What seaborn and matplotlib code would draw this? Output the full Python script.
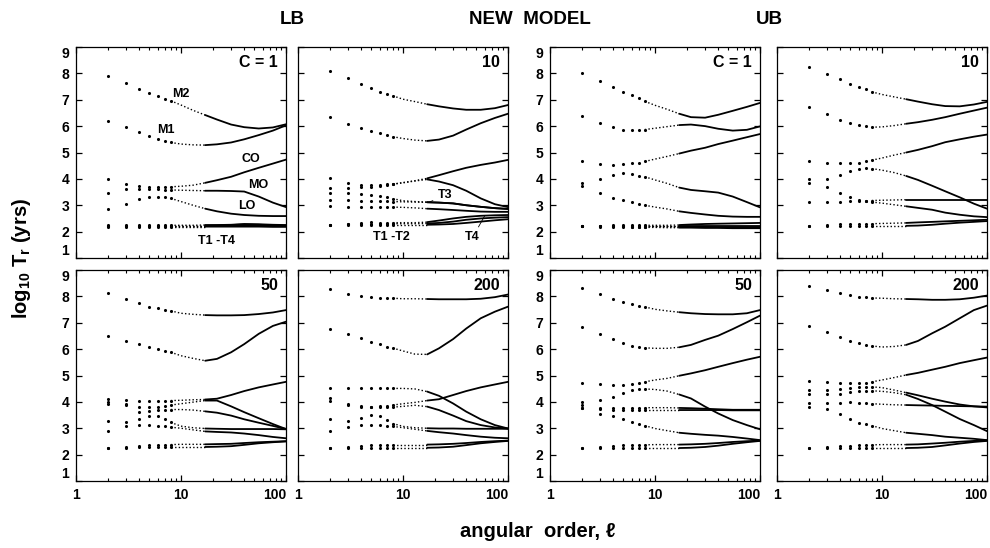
import matplotlib
matplotlib.use("Agg")
import matplotlib.pyplot as plt
import matplotlib.ticker as mticker
import pandas as pd
import seaborn as sns

# angular order samples (dots at low l, dotted / solid line further on)
ell = [2, 3, 4, 5, 6, 7, 8, 10, 13, 17, 22, 30, 40, 55, 75, 100]

# ---- LB, C = 1
lb1_m2 = [7.90, 7.63, 7.40, 7.24, 7.14, 7.04, 6.96, 6.80, 6.60, 6.42, 6.25, 6.06, 5.96, 5.91, 5.95, 6.07]
lb1_m1 = [6.19, 5.95, 5.77, 5.62, 5.50, 5.43, 5.38, 5.32, 5.29, 5.28, 5.31, 5.38, 5.50, 5.66, 5.83, 6.03]
lb1_co = [3.98, 3.81, 3.73, 3.70, 3.69, 3.69, 3.70, 3.72, 3.76, 3.85, 3.95, 4.08, 4.25, 4.42, 4.58, 4.73]
lb1_mo = [3.47, 3.60, 3.62, 3.61, 3.60, 3.59, 3.58, 3.57, 3.56, 3.55, 3.55, 3.54, 3.52, 3.33, 3.10, 2.93]
lb1_lo = [2.87, 3.05, 3.22, 3.30, 3.32, 3.30, 3.26, 3.14, 3.00, 2.87, 2.77, 2.68, 2.63, 2.60, 2.59, 2.59]
lb1_t1 = [2.19, 2.19, 2.19, 2.19, 2.19, 2.19, 2.19, 2.19, 2.19, 2.19, 2.19, 2.19, 2.19, 2.19, 2.18, 2.18]
lb1_t2 = [2.21, 2.21, 2.21, 2.21, 2.21, 2.21, 2.21, 2.21, 2.21, 2.21, 2.21, 2.22, 2.22, 2.22, 2.21, 2.21]
lb1_t3 = [2.23, 2.23, 2.23, 2.23, 2.23, 2.23, 2.23, 2.23, 2.23, 2.23, 2.24, 2.25, 2.27, 2.26, 2.24, 2.23]
lb1_t4 = [2.24, 2.24, 2.24, 2.24, 2.24, 2.24, 2.24, 2.24, 2.24, 2.25, 2.25, 2.26, 2.29, 2.28, 2.26, 2.25]

# ---- LB, C = 10
lb10_m2 = [8.09, 7.81, 7.61, 7.43, 7.30, 7.21, 7.15, 7.02, 6.93, 6.83, 6.75, 6.67, 6.62, 6.62, 6.68, 6.80]
lb10_m1 = [6.33, 6.09, 5.93, 5.83, 5.74, 5.67, 5.60, 5.53, 5.47, 5.44, 5.49, 5.64, 5.87, 6.11, 6.31, 6.47]
lb10_co = [4.04, 3.85, 3.76, 3.76, 3.77, 3.79, 3.80, 3.86, 3.93, 4.02, 4.14, 4.29, 4.42, 4.53, 4.62, 4.72]
lb10_mo = [3.64, 3.66, 3.68, 3.71, 3.74, 3.77, 3.80, 3.85, 3.92, 3.98, 3.90, 3.76, 3.55, 3.26, 3.04, 2.93]
lb10_x = [3.45, 3.45, 3.43, 3.40, 3.35, 3.30, 3.25, 3.17, 3.14, 3.12, 3.10, 3.07, 3.00, 2.94, 2.89, 2.86]
lb10_t3 = [3.21, 3.20, 3.18, 3.17, 3.16, 3.15, 3.14, 3.13, 3.12, 3.11, 3.10, 3.07, 3.00, 2.94, 2.89, 2.86]
lb10_lo = [2.98, 2.93, 2.93, 2.93, 2.93, 2.93, 2.93, 2.92, 2.90, 2.87, 2.85, 2.82, 2.79, 2.76, 2.75, 2.75]
lb10_t4 = [2.26, 2.30, 2.33, 2.35, 2.34, 2.34, 2.34, 2.34, 2.34, 2.36, 2.42, 2.50, 2.56, 2.60, 2.62, 2.63]
lb10_t2 = [2.26, 2.28, 2.30, 2.30, 2.30, 2.30, 2.30, 2.30, 2.30, 2.31, 2.33, 2.38, 2.45, 2.50, 2.53, 2.55]
lb10_t1 = [2.26, 2.26, 2.26, 2.26, 2.26, 2.26, 2.26, 2.26, 2.26, 2.26, 2.27, 2.29, 2.33, 2.38, 2.43, 2.47]

# ---- UB, C = 1
ub1_m2 = [8.00, 7.71, 7.49, 7.30, 7.17, 7.05, 6.94, 6.79, 6.64, 6.47, 6.34, 6.32, 6.43, 6.58, 6.73, 6.88]
ub1_m1 = [6.38, 6.13, 5.96, 5.87, 5.86, 5.86, 5.87, 5.92, 5.98, 6.04, 6.06, 6.00, 5.90, 5.83, 5.86, 5.99]
ub1_co = [4.66, 4.58, 4.53, 4.56, 4.59, 4.62, 4.66, 4.75, 4.85, 4.96, 5.07, 5.18, 5.32, 5.45, 5.58, 5.70]
ub1_mo = [3.85, 3.98, 4.15, 4.21, 4.17, 4.12, 4.08, 3.96, 3.83, 3.67, 3.58, 3.53, 3.48, 3.33, 3.12, 2.92]
ub1_lo = [3.72, 3.47, 3.28, 3.19, 3.11, 3.05, 3.00, 2.93, 2.86, 2.77, 2.71, 2.65, 2.60, 2.57, 2.56, 2.56]
ub1_t4 = [2.22, 2.23, 2.24, 2.24, 2.24, 2.24, 2.24, 2.24, 2.24, 2.25, 2.27, 2.29, 2.30, 2.31, 2.32, 2.33]
ub1_t3 = [2.22, 2.22, 2.22, 2.22, 2.22, 2.22, 2.22, 2.22, 2.22, 2.22, 2.22, 2.22, 2.22, 2.22, 2.22, 2.22]
ub1_t2 = [2.22, 2.21, 2.20, 2.20, 2.19, 2.19, 2.19, 2.19, 2.19, 2.18, 2.18, 2.18, 2.17, 2.17, 2.17, 2.17]
ub1_t1 = [2.21, 2.19, 2.18, 2.17, 2.17, 2.16, 2.16, 2.16, 2.15, 2.15, 2.15, 2.14, 2.14, 2.13, 2.13, 2.13]

# ---- UB, C = 10
ub10_m2 = [8.26, 7.97, 7.77, 7.60, 7.49, 7.39, 7.30, 7.20, 7.11, 7.02, 6.93, 6.83, 6.76, 6.75, 6.82, 6.92]
ub10_m1 = [6.71, 6.45, 6.25, 6.13, 6.05, 6.00, 5.96, 5.97, 6.02, 6.09, 6.15, 6.24, 6.34, 6.47, 6.59, 6.70]
ub10_co = [4.68, 4.62, 4.59, 4.59, 4.62, 4.66, 4.71, 4.79, 4.90, 5.00, 5.10, 5.24, 5.39, 5.50, 5.60, 5.68]
ub10_mo = [3.98, 4.01, 4.15, 4.30, 4.39, 4.40, 4.39, 4.33, 4.24, 4.11, 3.96, 3.74, 3.53, 3.30, 3.06, 2.87]
ub10_t3 = [3.11, 3.11, 3.11, 3.15, 3.15, 3.17, 3.18, 3.19, 3.20, 3.21, 3.21, 3.21, 3.21, 3.21, 3.21, 3.21]
ub10_lo = [3.83, 3.69, 3.47, 3.32, 3.21, 3.15, 3.12, 3.08, 3.02, 2.96, 2.90, 2.83, 2.72, 2.64, 2.58, 2.55]
ub10_t2 = [2.22, 2.26, 2.28, 2.29, 2.30, 2.30, 2.30, 2.31, 2.32, 2.33, 2.35, 2.37, 2.39, 2.41, 2.43, 2.45]
ub10_t1 = [2.22, 2.22, 2.22, 2.22, 2.22, 2.22, 2.22, 2.22, 2.22, 2.22, 2.23, 2.26, 2.30, 2.34, 2.37, 2.40]

# ---- LB, C = 50
lb50_m2 = [8.12, 7.91, 7.76, 7.61, 7.55, 7.50, 7.45, 7.36, 7.32, 7.29, 7.28, 7.28, 7.29, 7.33, 7.39, 7.48]
lb50_m1 = [6.50, 6.31, 6.19, 6.09, 6.00, 5.94, 5.88, 5.75, 5.65, 5.56, 5.63, 5.88, 6.19, 6.58, 6.88, 7.04]
lb50_co = [4.12, 4.06, 4.02, 4.02, 4.03, 4.04, 4.05, 4.06, 4.08, 4.09, 4.12, 4.26, 4.41, 4.55, 4.66, 4.76]
lb50_mo = [3.92, 3.88, 3.82, 3.80, 3.82, 3.85, 3.88, 3.93, 3.99, 4.05, 4.05, 3.83, 3.61, 3.38, 3.16, 2.97]
lb50_x = [4.00, 3.92, 3.62, 3.65, 3.68, 3.70, 3.71, 3.71, 3.69, 3.64, 3.59, 3.48, 3.34, 3.21, 3.09, 2.97]
lb50_y = [3.29, 3.24, 3.35, 3.45, 3.48, 3.35, 3.22, 3.08, 3.02, 2.99, 2.98, 2.97, 2.97, 2.97, 2.97, 2.96]
lb50_lo = [2.90, 3.10, 3.12, 3.12, 3.10, 3.07, 3.04, 3.00, 2.94, 2.88, 2.86, 2.84, 2.80, 2.74, 2.67, 2.62]
lb50_t2 = [2.26, 2.30, 2.34, 2.36, 2.37, 2.38, 2.38, 2.39, 2.39, 2.39, 2.40, 2.41, 2.44, 2.47, 2.49, 2.51]
lb50_t1 = [2.26, 2.27, 2.28, 2.29, 2.29, 2.29, 2.29, 2.29, 2.29, 2.29, 2.30, 2.32, 2.37, 2.43, 2.47, 2.50]

# ---- LB, C = 200
lb200_m2 = [8.28, 8.10, 8.01, 7.98, 7.95, 7.94, 7.93, 7.91, 7.91, 7.90, 7.89, 7.89, 7.89, 7.91, 7.97, 8.07]
lb200_m1 = [6.75, 6.56, 6.41, 6.28, 6.18, 6.09, 6.04, 5.93, 5.81, 5.80, 6.03, 6.38, 6.78, 7.17, 7.42, 7.61]
lb200_u = [4.51, 4.51, 4.51, 4.51, 4.51, 4.51, 4.51, 4.51, 4.49, 4.39, 4.23, 3.94, 3.63, 3.34, 3.12, 2.99]
lb200_co = [4.16, 3.90, 3.81, 3.82, 3.83, 3.85, 3.88, 3.93, 3.98, 4.05, 4.10, 4.26, 4.41, 4.55, 4.66, 4.76]
lb200_v = [4.05, 3.92, 3.83, 3.80, 3.79, 3.79, 3.80, 3.83, 3.87, 3.82, 3.69, 3.48, 3.27, 3.12, 3.03, 2.99]
lb200_y = [3.34, 3.27, 3.40, 3.50, 3.46, 3.30, 3.18, 3.07, 3.02, 3.00, 2.99, 2.99, 2.98, 2.98, 2.98, 2.98]
lb200_lo = [2.91, 3.06, 3.14, 3.14, 3.12, 3.10, 3.07, 3.02, 2.96, 2.90, 2.85, 2.80, 2.74, 2.68, 2.64, 2.62]
lb200_t2 = [2.26, 2.30, 2.34, 2.36, 2.37, 2.38, 2.38, 2.38, 2.38, 2.38, 2.39, 2.41, 2.44, 2.48, 2.51, 2.53]
lb200_t1 = [2.26, 2.26, 2.26, 2.26, 2.26, 2.26, 2.26, 2.26, 2.26, 2.26, 2.27, 2.30, 2.36, 2.43, 2.48, 2.52]

# ---- UB, C = 50
ub50_m2 = [8.33, 8.09, 7.91, 7.80, 7.72, 7.65, 7.60, 7.51, 7.45, 7.40, 7.36, 7.33, 7.32, 7.32, 7.36, 7.48]
ub50_m1 = [6.83, 6.56, 6.37, 6.22, 6.12, 6.08, 6.05, 6.03, 6.03, 6.07, 6.16, 6.35, 6.51, 6.76, 7.02, 7.27]
ub50_co = [4.70, 4.66, 4.64, 4.64, 4.68, 4.72, 4.76, 4.83, 4.89, 4.99, 5.08, 5.20, 5.33, 5.47, 5.60, 5.71]
ub50_mo = [3.99, 4.06, 4.17, 4.33, 4.45, 4.48, 4.49, 4.47, 4.41, 4.28, 4.13, 3.82, 3.56, 3.31, 3.12, 2.96]
ub50_f1 = [3.88, 3.78, 3.78, 3.78, 3.78, 3.78, 3.78, 3.78, 3.78, 3.77, 3.76, 3.74, 3.72, 3.70, 3.70, 3.70]
ub50_f2 = [3.78, 3.72, 3.70, 3.69, 3.69, 3.69, 3.69, 3.69, 3.69, 3.69, 3.69, 3.69, 3.69, 3.68, 3.68, 3.68]
ub50_lo = [3.78, 3.53, 3.45, 3.35, 3.25, 3.16, 3.10, 2.99, 2.91, 2.83, 2.79, 2.75, 2.72, 2.67, 2.61, 2.55]
ub50_t2 = [2.26, 2.28, 2.32, 2.35, 2.36, 2.37, 2.37, 2.38, 2.38, 2.38, 2.39, 2.41, 2.44, 2.48, 2.51, 2.53]
ub50_t1 = [2.26, 2.26, 2.26, 2.25, 2.25, 2.25, 2.25, 2.25, 2.25, 2.25, 2.26, 2.29, 2.34, 2.41, 2.47, 2.52]

# ---- UB, C = 200
ub200_m2 = [8.41, 8.23, 8.12, 8.05, 7.99, 7.96, 7.94, 7.93, 7.91, 7.90, 7.89, 7.87, 7.87, 7.89, 7.95, 8.03]
ub200_m1 = [6.88, 6.64, 6.46, 6.31, 6.22, 6.16, 6.12, 6.08, 6.10, 6.16, 6.31, 6.60, 6.85, 7.17, 7.48, 7.65]
ub200_co = [4.80, 4.76, 4.73, 4.70, 4.70, 4.72, 4.76, 4.83, 4.92, 5.02, 5.10, 5.22, 5.33, 5.47, 5.58, 5.68]
ub200_a = [4.45, 4.45, 4.49, 4.54, 4.56, 4.57, 4.57, 4.54, 4.45, 4.35, 4.25, 4.12, 4.01, 3.90, 3.83, 3.79]
ub200_b = [4.28, 4.28, 4.30, 4.36, 4.41, 4.42, 4.42, 4.40, 4.35, 4.27, 4.11, 3.88, 3.63, 3.35, 3.12, 2.89]
ub200_c = [3.97, 3.95, 3.97, 3.98, 3.97, 3.95, 3.93, 3.91, 3.89, 3.88, 3.87, 3.86, 3.85, 3.84, 3.83, 3.82]
ub200_lo = [3.82, 3.73, 3.53, 3.35, 3.21, 3.15, 3.10, 2.99, 2.91, 2.83, 2.79, 2.74, 2.68, 2.64, 2.60, 2.55]
ub200_t2 = [2.26, 2.28, 2.32, 2.34, 2.35, 2.36, 2.37, 2.38, 2.38, 2.38, 2.39, 2.42, 2.45, 2.49, 2.52, 2.54]
ub200_t1 = [2.25, 2.25, 2.25, 2.25, 2.25, 2.25, 2.25, 2.25, 2.25, 2.25, 2.26, 2.29, 2.35, 2.42, 2.48, 2.52]

panel_tags = ["C = 1", "10", "C = 1", "10", "50", "200", "50", "200"]
panel_curves = [
    [lb1_m2, lb1_m1, lb1_co, lb1_mo, lb1_lo, lb1_t1, lb1_t2, lb1_t3, lb1_t4],
    [lb10_m2, lb10_m1, lb10_co, lb10_mo, lb10_x, lb10_t3, lb10_lo, lb10_t4, lb10_t2, lb10_t1],
    [ub1_m2, ub1_m1, ub1_co, ub1_mo, ub1_lo, ub1_t4, ub1_t3, ub1_t2, ub1_t1],
    [ub10_m2, ub10_m1, ub10_co, ub10_mo, ub10_t3, ub10_lo, ub10_t2, ub10_t1],
    [lb50_m2, lb50_m1, lb50_co, lb50_mo, lb50_x, lb50_y, lb50_lo, lb50_t2, lb50_t1],
    [lb200_m2, lb200_m1, lb200_u, lb200_co, lb200_v, lb200_y, lb200_lo, lb200_t2, lb200_t1],
    [ub50_m2, ub50_m1, ub50_co, ub50_mo, ub50_f1, ub50_f2, ub50_lo, ub50_t2, ub50_t1],
    [ub200_m2, ub200_m1, ub200_co, ub200_a, ub200_b, ub200_c, ub200_lo, ub200_t2, ub200_t1],
]

sns.set_style("ticks")
plt.rcParams['font.family'] = ['Liberation Sans', 'DejaVu Sans']
plt.rcParams['font.weight'] = 'bold'
plt.rcParams['mathtext.fontset'] = 'custom'
plt.rcParams['mathtext.rm'] = 'Liberation Sans:bold'
plt.rcParams['mathtext.it'] = 'Liberation Sans:bold'
plt.rcParams['mathtext.bf'] = 'Liberation Sans:bold'
for key in ['text.color', 'axes.labelcolor', 'xtick.color', 'ytick.color', 'axes.edgecolor']:
    plt.rcParams[key] = 'black'

fig = plt.figure(figsize=(9.9, 5.48), dpi=100)

lefts = [76, 298, 550, 777]
tops = [47, 270]
W, H = 210, 211


def draw_curve(ax, vals):
    df = pd.DataFrame({"l": ell, "T": vals})
    dots = df[df["l"] <= 8]
    mid = df[(df["l"] >= 8) & (df["l"] <= 17)]
    tail = df[df["l"] >= 17]
    sns.scatterplot(data=dots, x="l", y="T", ax=ax, s=5, color="k",
                    linewidth=0, legend=False)
    sns.lineplot(data=mid, x="l", y="T", ax=ax, color="k", lw=1.0,
                 linestyle=(0, (1, 1.6)), estimator=None, sort=False)
    sns.lineplot(data=tail, x="l", y="T", ax=ax, color="k", lw=1.3,
                 estimator=None, sort=False)


axes = []
for i in range(8):
    row, col = divmod(i, 4)
    ax = fig.add_axes([lefts[col] / 990, 1 - (tops[row] + H) / 548, W / 990, H / 548])
    axes.append(ax)
    for vals in panel_curves[i]:
        draw_curve(ax, vals)

    ax.set_xscale("log")
    ax.set_xlim(1, 100)
    ax.set_ylim(1, 9)
    ax.xaxis.set_major_locator(mticker.FixedLocator([1, 10, 100]))
    ax.xaxis.set_minor_locator(mticker.LogLocator(base=10, subs=range(2, 10)))
    ax.xaxis.set_minor_formatter(mticker.NullFormatter())
    ax.set_yticks(range(1, 10))
    ax.tick_params(which="both", direction="in", top=True, right=True, colors="black")
    ax.tick_params(which="major", length=4.5, width=0.9, pad=5)
    ax.tick_params(which="minor", length=2.5, width=0.8)
    for s in ax.spines.values():
        s.set_linewidth(0.9)
        s.set_color("black")
    ax.set_xlabel("")
    ax.set_ylabel("")

    if row == 1:
        ax.set_xticklabels(["1", "10", "100"], fontsize=10, fontweight="bold")
        ax.get_xticklabels()[2].set_ha("right")
    else:
        ax.set_xticklabels([])
    if col in (0, 2):
        ax.set_yticklabels([str(v) for v in range(1, 10)], fontsize=10, fontweight="bold")
        ylabs = ax.get_yticklabels()
        ylabs[0].set_va("bottom")
        ylabs[-1].set_va("top")
    else:
        ax.set_yticklabels([])

    ax.text(0.962, 0.962, panel_tags[i], transform=ax.transAxes, ha="right",
            va="top", fontsize=11.5, fontweight="bold")

# curve names in the LB panels
ax = axes[0]
for txt, x, y in [("M2", 10, 7.23), ("M1", 7.1, 5.87), ("CO", 46, 4.75),
                  ("MO", 54, 3.75), ("LO", 42, 2.96), ("T1 -T4", 22, 1.66)]:
    ax.text(x, y, txt, ha="center", va="center", fontsize=9, fontweight="bold")

ax = axes[1]
ax.text(7.7, 1.78, "T1 -T2", ha="center", va="center", fontsize=9, fontweight="bold")
ax.annotate("T3", xy=(17.6, 3.11), xytext=(25, 3.37), ha="center", va="center",
            fontsize=9, fontweight="bold",
            arrowprops=dict(arrowstyle="-", lw=0.6, color="k", shrinkA=1, shrinkB=0))
ax.annotate("T4", xy=(60, 2.60), xytext=(46, 1.78), ha="center", va="center",
            fontsize=9, fontweight="bold",
            arrowprops=dict(arrowstyle="-", lw=0.6, color="k", shrinkA=1, shrinkB=0))

fig.text(0.295, 0.965, "LB", ha="center", va="center", fontsize=13.5, fontweight="bold")
fig.text(0.535, 0.965, "NEW  MODEL", ha="center", va="center", fontsize=13.5, fontweight="bold")
fig.text(0.777, 0.965, "UB", ha="center", va="center", fontsize=13.5, fontweight="bold")
fig.text(0.543, 0.03, "angular  order, ℓ", ha="center", va="center", fontsize=14.5,
         fontweight="bold")
fig.text(0.022, 0.529, r"log$_{10}$ T$_r$ (yrs)", ha="center", va="center", rotation=90,
         fontsize=14.5, fontweight="bold")

fig.savefig("out.png", dpi=100)
